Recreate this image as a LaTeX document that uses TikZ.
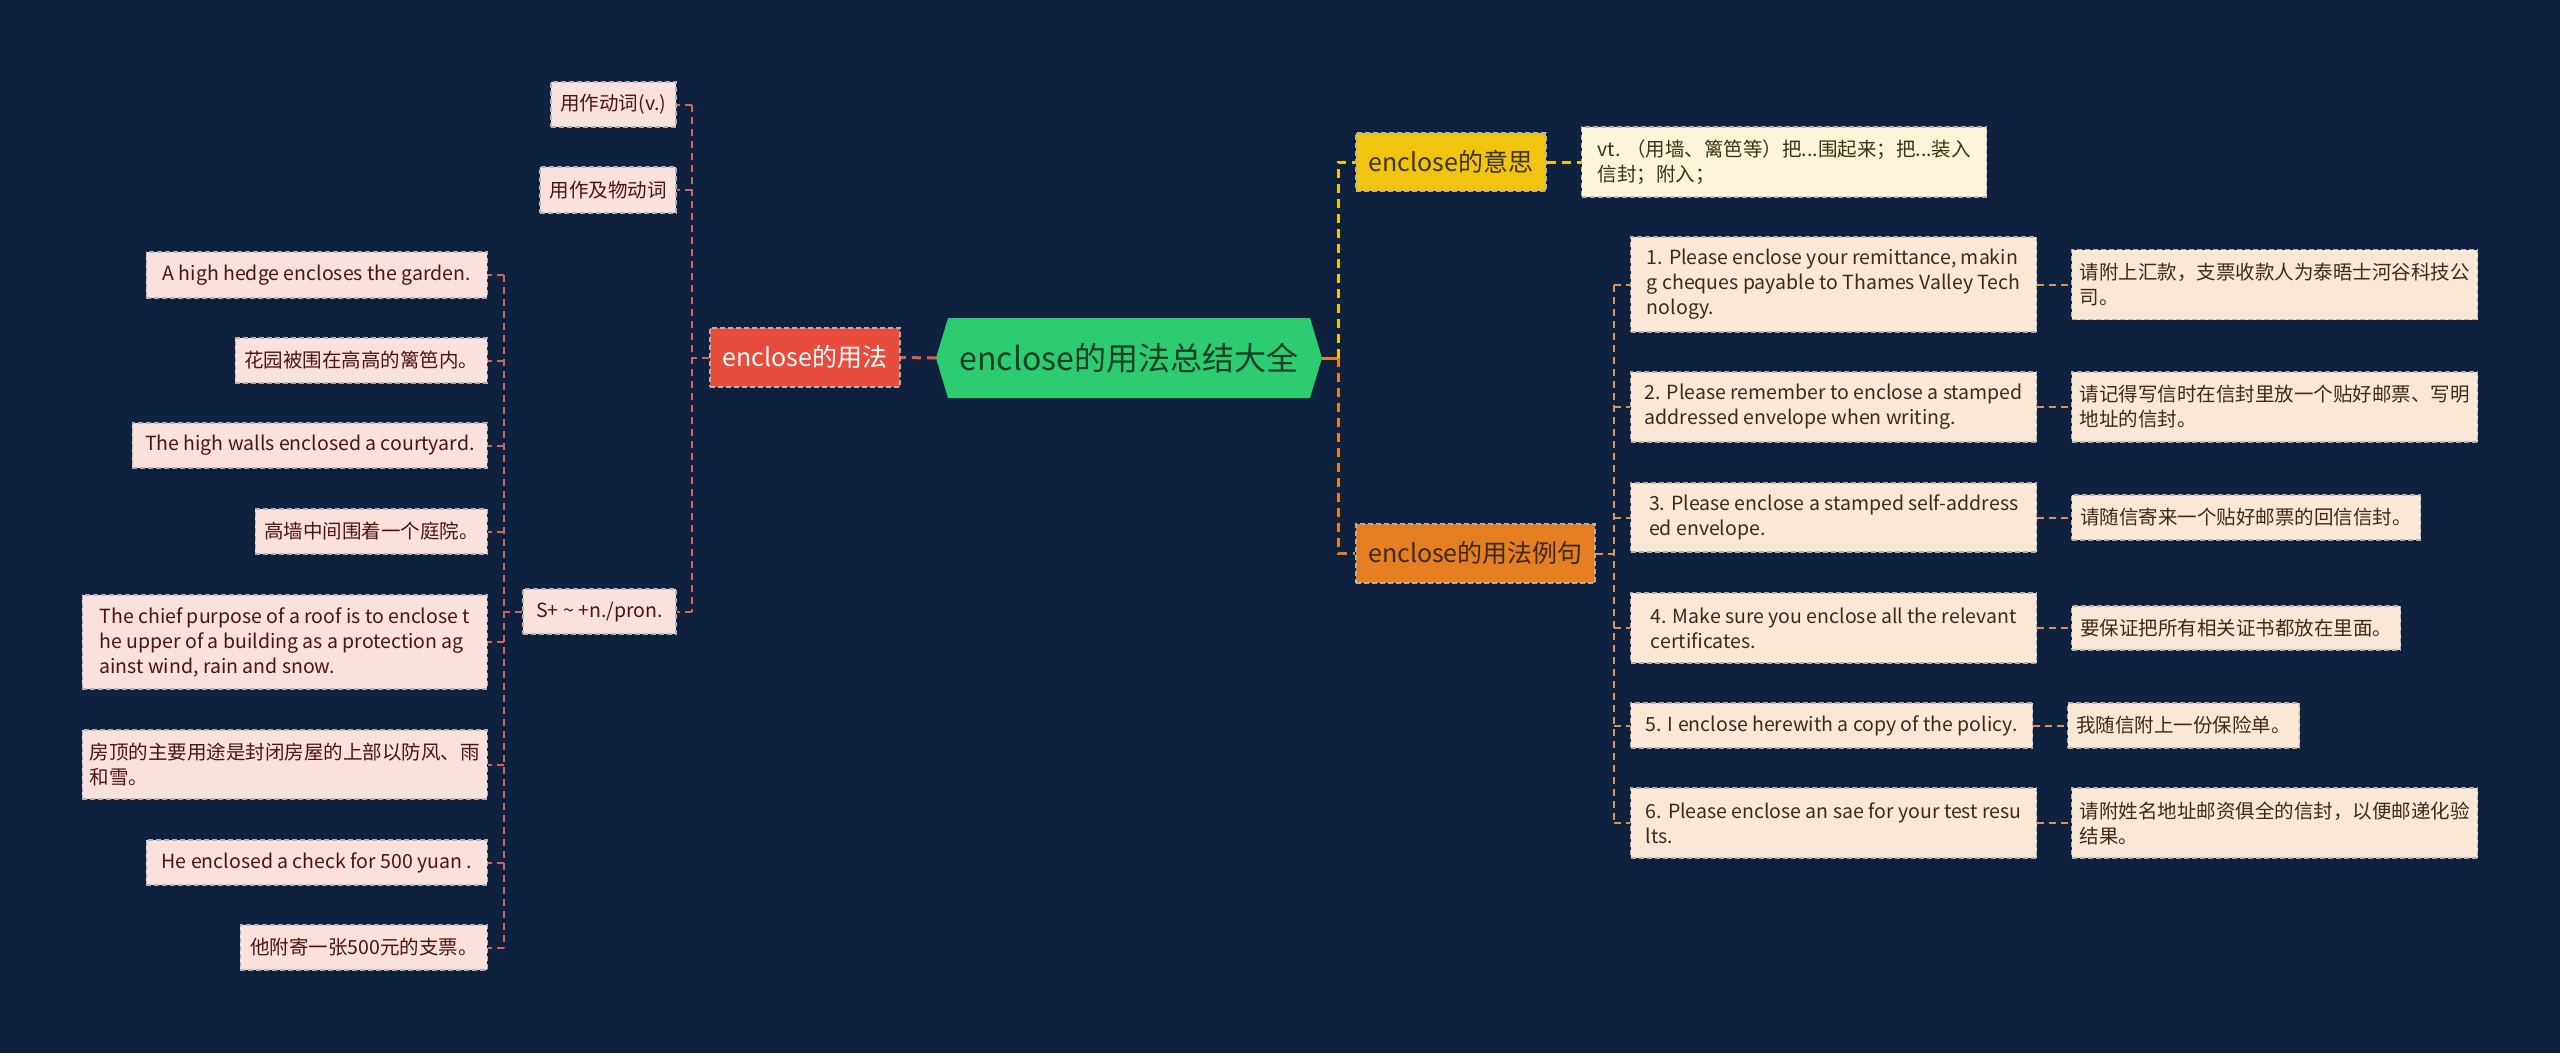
\documentclass[tikz,border=0pt]{standalone}
\usepackage{fontspec}
\setmainfont{Noto Sans CJK SC}
\definecolor{bg}{HTML}{0E213F}
\definecolor{hexgreen}{HTML}{2ECC71}
\definecolor{hextext}{HTML}{173F27}
\definecolor{redbox}{HTML}{E74C3C}
\definecolor{yelbox}{HTML}{F1C40F}
\definecolor{orabox}{HTML}{E67E22}
\definecolor{pinkfill}{HTML}{FBE1DC}
\definecolor{peachfill}{HTML}{FBE7D5}
\definecolor{creamfill}{HTML}{FDF5DA}
\definecolor{lefttext}{HTML}{4A1410}
\definecolor{righttext}{HTML}{3C2A18}
\definecolor{deftext}{HTML}{3C3210}
\definecolor{redline}{HTML}{D9604F}
\definecolor{leftline}{HTML}{CF665B}
\definecolor{yelline}{HTML}{F1C40F}
\definecolor{oraline}{HTML}{E67E22}
\definecolor{tanline}{HTML}{D8935C}
\begin{document}
\begin{tikzpicture}[x=1pt,y=-1pt,
  box/.style={rectangle, align=left, inner sep=0pt, draw=white!70!black,
    line width=1.4pt, dash pattern=on 5pt off 3pt},
  small/.style={font=\fontsize{19.5}{25}\selectfont},
  leafL/.style={box, small, fill=pinkfill, text=lefttext, anchor=east},
  leafR/.style={box, small, fill=peachfill, text=righttext, anchor=west},
  defbox/.style={box, small, fill=creamfill, text=deftext, anchor=west},
  midL/.style={box, small, fill=pinkfill, text=lefttext},
  lvtwo/.style={box, font=\fontsize{25}{30}\selectfont},
  thick1/.style={line width=3pt, dash pattern=on 9pt off 6pt},
  thin1/.style={line width=2pt, dash pattern=on 7pt off 5pt}
]
\fill[bg] (0,0) rectangle (2560,1053);
\useasboundingbox (0,0) rectangle (2560,1053);

% central hexagon
\fill[hexgreen] (936,358) -- (948,318) -- (1310,318) -- (1322,358) -- (1310,398) -- (948,398) -- cycle;
\node[inner sep=0pt, minimum width=386pt, minimum height=80pt, text=hextext,
  font=\fontsize{32}{38}\selectfont] (root) at (1129,358) {enclose的用法总结大全};

% level 2
\node[lvtwo, fill=redbox, text=white, minimum width=190pt, minimum height=59pt] (L2) at (805,357.5) {enclose的用法};
\node[lvtwo, fill=yelbox, text=deftext, minimum width=190pt, minimum height=58pt] (m1) at (1451,162) {enclose的意思};
\node[lvtwo, fill=orabox, text=righttext, minimum width=239pt, minimum height=59pt] (m2) at (1475.5,553.5) {enclose的用法例句};

% left level 3
\node[midL, minimum width=125pt, minimum height=45pt] (c1) at (613.5,104.5) {用作动词(v.)};
\node[midL, minimum width=136pt, minimum height=46pt] (c2) at (608,190) {用作及物动词};
\node[midL, minimum width=153pt, minimum height=45pt] (c3) at (599.5,611.5) {S+ \textasciitilde{} +n./pron.};

% left leaves
\node[leafL, minimum width=341pt, minimum height=46pt] (l1) at (488,275) {A high hedge encloses the garden.};
\node[leafL, minimum width=252pt, minimum height=45pt] (l2) at (488,360.5) {花园被围在高高的篱笆内。};
\node[leafL, minimum width=355pt, minimum height=45pt] (l3) at (488,445.5) {The high walls enclosed a courtyard.};
\node[leafL, minimum width=232pt, minimum height=45pt] (l4) at (488,531.5) {高墙中间围着一个庭院。};
\node[leafL, minimum width=405pt, minimum height=94pt] (l5) at (488,642) {The chief purpose of a roof is to enclose t\\he upper of a building as a protection ag\\ainst wind, rain and snow.};
\node[leafL, minimum width=405pt, minimum height=69pt] (l6) at (488,764.5) {房顶的主要用途是封闭房屋的上部以防风、雨\\和雪。};
\node[leafL, minimum width=341pt, minimum height=45pt] (l7) at (488,862.5) {He enclosed a check for 500 yuan .};
\node[leafL, minimum width=247pt, minimum height=45pt] (l8) at (488,947.5) {他附寄一张500元的支票。};

% right definition
\node[defbox, minimum width=405pt, minimum height=70pt] (def) at (1581,162) {vt. （用墙、篱笆等）把...围起来；把...装入\\信封；附入；};

% right items
\node[leafR, minimum width=406pt, minimum height=95pt] (i1) at (1630,284.5) {1. Please enclose your remittance, makin\\g cheques payable to Thames Valley Tech\\nology.};
\node[leafR, minimum width=406pt, minimum height=70pt] (i2) at (1630,407) {2. Please remember to enclose a stamped\\ addressed envelope when writing.};
\node[leafR, minimum width=406pt, minimum height=69pt] (i3) at (1630,517.5) {3. Please enclose a stamped self-address\\ed envelope.};
\node[leafR, minimum width=406pt, minimum height=70pt] (i4) at (1630,628) {4. Make sure you enclose all the relevant\\certificates.};
\node[leafR, minimum width=402pt, minimum height=45pt] (i5) at (1630,725.5) {5. I enclose herewith a copy of the policy.};
\node[leafR, minimum width=406pt, minimum height=70pt] (i6) at (1630,823) {6. Please enclose an sae for your test resu\\lts.};

% translations
\node[leafR, minimum width=406pt, minimum height=70pt] (t1) at (2071,284.5) {请附上汇款，支票收款人为泰晤士河谷科技公\\司。};
\node[leafR, minimum width=406pt, minimum height=70pt] (t2) at (2071,407) {请记得写信时在信封里放一个贴好邮票、写明\\地址的信封。};
\node[leafR, minimum width=349pt, minimum height=45pt] (t3) at (2071,517.5) {请随信寄来一个贴好邮票的回信信封。};
\node[leafR, minimum width=329pt, minimum height=44pt] (t4) at (2071,628) {要保证把所有相关证书都放在里面。};
\node[leafR, minimum width=232pt, minimum height=45pt] (t5) at (2067,725.5) {我随信附上一份保险单。};
\node[leafR, minimum width=406pt, minimum height=70pt] (t6) at (2071,823) {请附姓名地址邮资俱全的信封，以便邮递化验\\结果。};

% ---- connectors: left
\draw[redline, thick1] (root.west) -- (L2.east);
\coordinate (jL) at ([xshift=-17pt]L2.west);
\draw[leftline, thin1] (L2.west) -- (jL);
\draw[leftline, thin1] (jL |- c1.east) -- (jL |- c3.east);
\foreach \n in {c1,c2,c3} \draw[leftline, thin1] (jL |- \n.east) -- (\n.east);
\coordinate (jS) at ([xshift=-18pt]c3.west);
\draw[leftline, thin1] (c3.west) -- (jS);
\draw[leftline, thin1] (jS |- l1.east) -- (jS |- l8.east);
\foreach \n in {l1,l2,l3,l4,l5,l6,l7,l8} \draw[leftline, thin1] (jS |- \n.east) -- (\n.east);

% ---- connectors: right
\coordinate (jR) at ([xshift=16pt]root.east);
\draw[oraline, line width=3pt] (root.east) -- (jR);
\draw[yelline, thick1] (jR) -- (jR |- m1.west) -- (m1.west);
\draw[oraline, thick1] (jR) -- (jR |- m2.west) -- (m2.west);
\draw[yelline, thick1] (m1.east) -- (def.west);
\coordinate (jI) at ([xshift=18pt]m2.east);
\draw[tanline, thin1] (m2.east) -- (jI);
\draw[tanline, thin1] (jI |- i1.west) -- (jI |- i6.west);
\foreach \n in {i1,i2,i3,i4,i5,i6} \draw[tanline, thin1] (jI |- \n.west) -- (\n.west);
\draw[tanline, thin1] (i1.east) -- (t1.west);
\draw[tanline, thin1] (i2.east) -- (t2.west);
\draw[tanline, thin1] (i3.east) -- (t3.west);
\draw[tanline, thin1] (i4.east) -- (t4.west);
\draw[tanline, thin1] (i5.east) -- (t5.west);
\draw[tanline, thin1] (i6.east) -- (t6.west);
\end{tikzpicture}
\end{document}
